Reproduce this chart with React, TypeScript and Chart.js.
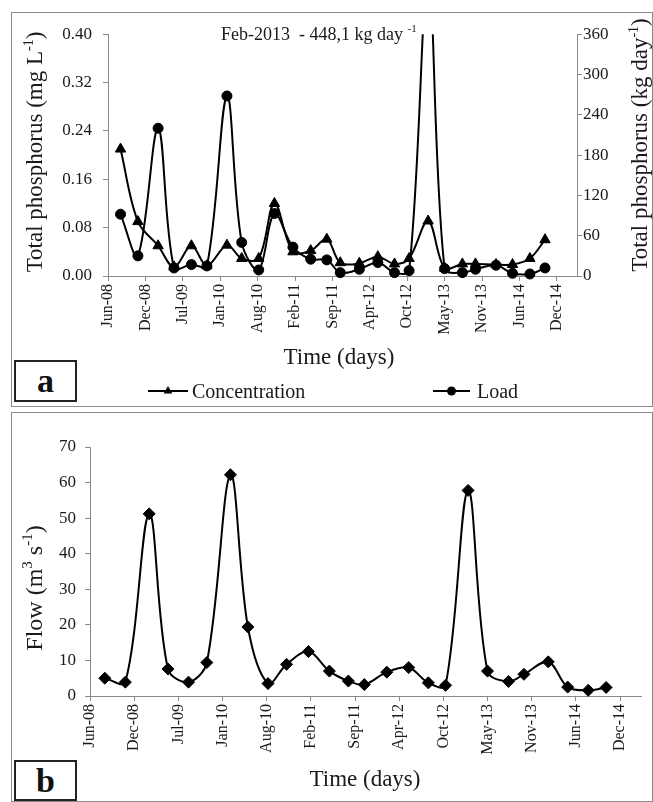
import React, { useEffect, useRef } from 'react';
import { Chart, registerables } from 'chart.js';

Chart.register(...registerables);

// ---------- data ----------
const AXIS_START = '2008-06-01';
const TICK_STEP_DAYS = 200;
const X_MAX_A = 2508;
const X_MAX_B = 2495;
const TICK_LABELS = ['Jun-08', 'Dec-08', 'Jul-09', 'Jan-10', 'Aug-10', 'Feb-11', 'Sep-11', 'Apr-12', 'Oct-12', 'May-13', 'Nov-13', 'Jun-14', 'Dec-14'];

const SAMPLE_DATES = [
  '2008-08-07', '2008-11-08', '2009-02-24', '2009-05-20', '2009-08-21', '2009-11-12',
  '2010-02-27', '2010-05-17', '2010-08-16', '2010-11-08', '2011-02-15', '2011-05-21',
  '2011-08-15', '2011-10-26', '2012-02-05', '2012-05-14', '2012-08-11', '2012-10-28',
  '2013-02-07', '2013-05-06', '2013-08-09', '2013-10-18', '2014-02-05', '2014-05-04',
  '2014-08-05', '2014-10-25',
];

// Total phosphorus concentration (mg L-1)
const CONCENTRATION = [0.210, 0.090, 0.050, 0.015, 0.050, 0.017, 0.051, 0.029, 0.029, 0.120, 0.040, 0.042, 0.061, 0.022, 0.021, 0.032, 0.020, 0.029, 0.091, 0.013, 0.020, 0.020, 0.019, 0.019, 0.029, 0.060];
// Total phosphorus load (kg day-1)
const LOAD = [92, 30, 220, 12, 17, 15, 268, 50, 9, 93, 43, 25, 24, 5, 10, 20, 5, 8, 448.1, 11, 5, 10, 16, 4, 3, 12];
// Flow (m3 s-1)
const FLOW = [5.0, 3.9, 51.2, 7.6, 3.9, 9.4, 62.2, 19.4, 3.5, 8.9, 12.5, 7.0, 4.2, 3.2, 6.7, 8.0, 3.7, 3.0, 57.8, 7.0, 4.1, 6.1, 9.6, 2.5, 1.6, 2.4];

const CONC_TICKS = [0, 0.08, 0.16, 0.24, 0.32, 0.40];
const LOAD_TICKS = [0, 60, 120, 180, 240, 300, 360];
const FLOW_TICKS = [0, 10, 20, 30, 40, 50, 60, 70];

// ---------- helpers ----------
const FONT = "'Liberation Serif', 'Times New Roman', Times, serif";
const AXIS_COLOR = '#8a8a8a';
const TEXT_COLOR = '#1a1a1a';

function dayOffset(iso: string): number {
  const [y, m, d] = iso.split('-').map(Number);
  const [y0, m0, d0] = AXIS_START.split('-').map(Number);
  return Math.round((Date.UTC(y, m - 1, d) - Date.UTC(y0, m0 - 1, d0)) / 86400000);
}

function points(values: number[]) {
  return SAMPLE_DATES.map((d, i) => ({ x: dayOffset(d), y: values[i] }));
}

type Part = { t: string; sup?: boolean };

function drawRich(
  ctx: CanvasRenderingContext2D,
  parts: Part[],
  x: number,
  y: number,
  size: number,
  opts: { rotate?: boolean; align?: 'center' | 'left'; shift?: number; bold?: boolean } = {}
) {
  const supSize = Math.round(size * 0.62);
  ctx.save();
  ctx.translate(x, y);
  if (opts.rotate) ctx.rotate(-Math.PI / 2);
  ctx.textAlign = 'left';
  ctx.textBaseline = 'alphabetic';
  ctx.fillStyle = TEXT_COLOR;
  const widths = parts.map((p) => {
    ctx.font = `${p.sup ? supSize : size}px ${FONT}`;
    return ctx.measureText(p.t).width;
  });
  const total = widths.reduce((a, b) => a + b, 0);
  let cx = opts.align === 'left' ? 0 : -total / 2;
  const base = (opts.shift ?? 0.27) * size;
  parts.forEach((p, i) => {
    ctx.font = `${p.sup ? supSize : size}px ${FONT}`;
    ctx.fillText(p.t, cx, p.sup ? base - size * 0.42 : base);
    cx += widths[i];
  });
  ctx.restore();
}

function xScale(max: number, height: number) {
  return {
    type: 'linear' as const,
    position: 'bottom' as const,
    min: 0,
    max,
    afterBuildTicks: (s: any) => {
      s.ticks = TICK_LABELS.map((_, i) => ({ value: i * TICK_STEP_DAYS }));
    },
    afterFit: (s: any) => {
      s.height = height;
    },
    ticks: {
      autoSkip: false,
      minRotation: 90,
      maxRotation: 90,
      padding: 3,
      color: TEXT_COLOR,
      font: { family: FONT, size: 16 },
      callback: (_v: any, i: number) => TICK_LABELS[i],
    },
    grid: { display: true, drawOnChartArea: false, drawTicks: true, tickLength: 5, color: AXIS_COLOR },
    border: { display: true, color: AXIS_COLOR, width: 1 },
  };
}

function yScale(pos: 'left' | 'right', values: number[], width: number, padding: number, fmt: (v: number) => string) {
  return {
    type: 'linear' as const,
    position: pos,
    min: values[0],
    max: values[values.length - 1],
    afterBuildTicks: (s: any) => {
      s.ticks = values.map((v) => ({ value: v }));
    },
    afterFit: (s: any) => {
      s.width = width;
    },
    ticks: {
      padding,
      color: TEXT_COLOR,
      font: { family: FONT, size: 17 },
      callback: (v: any) => fmt(Number(v)),
    },
    grid: { display: true, drawOnChartArea: false, drawTicks: true, tickLength: 5, color: AXIS_COLOR },
    border: { display: true, color: AXIS_COLOR, width: 1 },
  };
}

function legendMark(ctx: CanvasRenderingContext2D, x1: number, x2: number, y: number, style: string) {
  ctx.save();
  ctx.strokeStyle = '#000';
  ctx.lineWidth = 2;
  ctx.beginPath();
  ctx.moveTo(x1, y);
  ctx.lineTo(x2, y);
  ctx.stroke();
  ctx.fillStyle = '#000';
  const cx = (x1 + x2) / 2;
  ctx.beginPath();
  if (style === 'triangle') {
    const r = 5;
    ctx.moveTo(cx, y - r);
    ctx.lineTo(cx + r * 0.87, y + r * 0.5);
    ctx.lineTo(cx - r * 0.87, y + r * 0.5);
    ctx.closePath();
  } else {
    ctx.arc(cx, y, 4.5, 0, Math.PI * 2);
  }
  ctx.fill();
  ctx.restore();
}

const decorA = {
  id: 'decorA',
  afterDraw(chart: any) {
    const ctx = chart.ctx as CanvasRenderingContext2D;
    drawRich(ctx, [{ t: 'Total phosphorus (mg L' }, { t: '-1', sup: true }, { t: ')' }], 24, 139, 23, { rotate: true });
    drawRich(ctx, [{ t: 'Total phosphorus (kg day' }, { t: '-1', sup: true }, { t: ')' }], 629, 132, 23, { rotate: true });
    drawRich(ctx, [{ t: 'Time (days)' }], 327, 345, 23);
    drawRich(ctx, [{ t: 'Feb-2013  - 448,1 kg day ' }, { t: '-1', sup: true }], 209, 21, 18, { align: 'left', shift: 0.33 });
    legendMark(ctx, 136, 176, 378, 'triangle');
    drawRich(ctx, [{ t: 'Concentration' }], 180, 378, 20, { align: 'left', shift: 0.33 });
    legendMark(ctx, 421, 458, 378, 'circle');
    drawRich(ctx, [{ t: 'Load' }], 465, 378, 20, { align: 'left', shift: 0.33 });
  },
};

const decorB = {
  id: 'decorB',
  afterDraw(chart: any) {
    const ctx = chart.ctx as CanvasRenderingContext2D;
    drawRich(ctx, [{ t: 'Flow (m' }, { t: '3', sup: true }, { t: ' s' }, { t: '-1', sup: true }, { t: ')' }], 24, 175, 24, { rotate: true });
    drawRich(ctx, [{ t: 'Time (days)' }], 353, 367, 23);
  },
};

export default function App() {
  const refA = useRef<HTMLCanvasElement>(null);
  const refB = useRef<HTMLCanvasElement>(null);

  useEffect(() => {
    document.body.style.margin = '0';
    const lineBase = {
      borderColor: '#000',
      backgroundColor: '#000',
      pointBackgroundColor: '#000',
      pointBorderColor: '#000',
      borderWidth: 2,
      pointBorderWidth: 1,
      tension: 0.35,
    };
    const chartA = new Chart(refA.current as HTMLCanvasElement, {
      type: 'line',
      data: {
        datasets: [
          {
            ...lineBase,
            label: 'Concentration',
            data: points(CONCENTRATION),
            yAxisID: 'y',
            pointStyle: 'triangle',
            pointRadius: 6,
            clip: { left: 10, right: 10, top: 1, bottom: 10 },
          } as any,
          {
            ...lineBase,
            label: 'Load',
            data: points(LOAD),
            yAxisID: 'y2',
            pointStyle: 'circle',
            pointRadius: 5,
            clip: { left: 10, right: 10, top: 0, bottom: 10 },
          } as any,
        ],
      },
      options: {
        animation: false,
        responsive: false,
        devicePixelRatio: 1,
        events: [],
        layout: { padding: { top: 20, left: 0, right: 0, bottom: 0 } },
        plugins: { legend: { display: false }, tooltip: { enabled: false } },
        scales: {
          x: xScale(X_MAX_A, 130) as any,
          y: yScale('left', CONC_TICKS, 96, 11, (v) => v.toFixed(2)) as any,
          y2: yScale('right', LOAD_TICKS, 75, 1, (v) => String(v)) as any,
        },
      },
      plugins: [decorA],
    });

    const chartB = new Chart(refB.current as HTMLCanvasElement, {
      type: 'line',
      data: {
        datasets: [
          {
            ...lineBase,
            label: 'Flow',
            data: points(FLOW),
            yAxisID: 'y',
            pointStyle: 'rectRot',
            pointRadius: 6,
            clip: false,
          } as any,
        ],
      },
      options: {
        animation: false,
        responsive: false,
        devicePixelRatio: 1,
        events: [],
        layout: { padding: { top: 34, left: 0, right: 11, bottom: 0 } },
        plugins: { legend: { display: false }, tooltip: { enabled: false } },
        scales: {
          x: xScale(X_MAX_B, 105) as any,
          y: yScale('left', FLOW_TICKS, 78, 9, (v) => String(v)) as any,
        },
      },
      plugins: [decorB],
    });

    return () => {
      chartA.destroy();
      chartB.destroy();
    };
  }, []);

  const panel: React.CSSProperties = {
    position: 'absolute',
    left: 11,
    width: 642,
    border: '1px solid #8a8a8a',
    boxSizing: 'border-box',
    background: '#fff',
  };
  const tag: React.CSSProperties = {
    position: 'absolute',
    left: 14,
    width: 63,
    border: '2px solid #222',
    boxSizing: 'border-box',
    background: '#fff',
    fontFamily: FONT,
    fontWeight: 'bold',
    fontSize: 34,
    color: '#111',
    display: 'flex',
    alignItems: 'center',
    justifyContent: 'center',
    lineHeight: 1,
  };

  return (
    <div style={{ position: 'absolute', left: 0, top: 0, width: 653, height: 802, background: '#fff', overflow: 'hidden' }}>
      <div style={{ ...panel, top: 12, height: 395 }}>
        <canvas ref={refA} width={640} height={393} style={{ display: 'block', width: 640, height: 393 }} />
      </div>
      <div style={{ ...panel, top: 412, height: 390 }}>
        <canvas ref={refB} width={640} height={388} style={{ display: 'block', width: 640, height: 388 }} />
      </div>
      <div style={{ ...tag, top: 360, height: 42 }}>a</div>
      <div style={{ ...tag, top: 760, height: 41 }}>b</div>
    </div>
  );
}
